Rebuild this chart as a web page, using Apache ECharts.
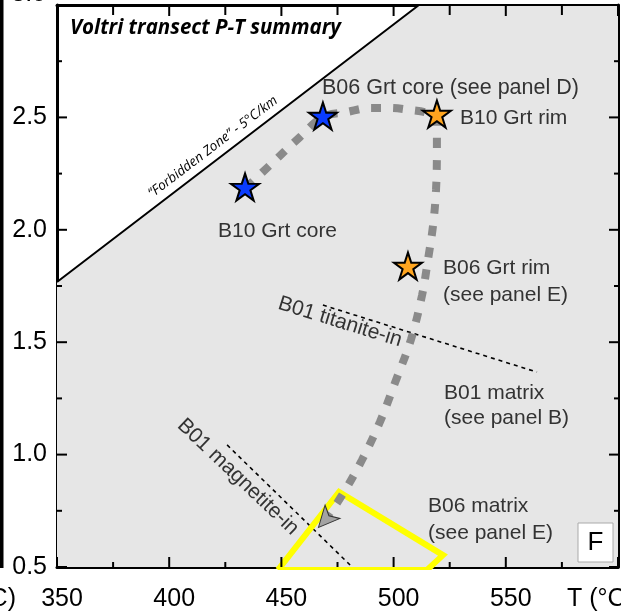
<!DOCTYPE html>
<html><head><meta charset="utf-8">
<script src="https://cdn.jsdelivr.net/npm/echarts@6/dist/echarts.min.js"></script>
<style>html,body{margin:0;padding:0;background:#fff}#c{width:621px;height:614px}</style>
</head><body><div id="c"></div>
<script>
// ---- data ----
const xMajorTicks = [350, 400, 450, 500, 550, 600];
const xMinorTicks = [375, 425, 475, 525, 575];
const yMajorTicks = [0.5, 1.0, 1.5, 2.0, 2.5, 3.0];
const yMinorTicks = [0.75, 1.25, 1.75, 2.25, 2.75];
// P-T path (T in °C, P in GPa)
const pathT = [434.2, 444.0, 458.3, 468.5, 479.2, 489.5, 498.4, 507.3, 515.3, 519.3, 519.3, 518.9, 517.6, 515.3, 512.7, 507.8, 501.1, 493.9, 485.9, 477.4, 470.3, 466.5];
const pathP = [2.186, 2.279, 2.413, 2.502, 2.524, 2.542, 2.542, 2.533, 2.520, 2.497, 2.355, 2.177, 2.021, 1.866, 1.710, 1.514, 1.332, 1.145, 0.976, 0.825, 0.722, 0.676];
// garnet cores (blue stars) and rims (orange stars)
const coreNames = ['B10 Grt core', 'B06 Grt core'];
const coreT = [433.8, 468.5];
const coreP = [2.190, 2.506];
const rimNames = ['B10 Grt rim', 'B06 Grt rim'];
const rimT = [519.3, 506.4];
const rimP = [2.515, 1.839];
// "Forbidden zone" 5°C/km boundary
const forbT = [350, 511.3, 600];
const forbP = [1.768, 3.0, 3.0];
// reaction lines
const titaniteT = [468.5, 563.9];
const titaniteP = [1.665, 1.367];
const magnetiteT = [425.8, 480.6];
const magnetiteP = [1.043, 0.509];
// B06 matrix field (yellow polygon)
const matrixT = [448.5, 475.7, 522.0, 514.9, 448.5];
const matrixP = [0.487, 0.834, 0.553, 0.487, 0.487];

const zip = (a, b) => a.map((v, i) => [v, b[i]]);
const star = 'path://M50 0 L61.2 34.5 L97.6 34.5 L68.2 55.9 L79.4 90.5 L50 69.1 L20.6 90.5 L31.8 55.9 L2.4 34.5 L38.8 34.5 Z';
const LF = '"Liberation Sans", Arial, sans-serif';
const X0 = 350, X1 = 600, Y0 = 0.5, Y1 = 3.0;

const chart = echarts.init(document.getElementById('c'), null, {renderer: 'canvas'});
function ax(position, min, max, interval, label) {
  return {
    type: 'value', position: position, min: min, max: max, interval: interval,
    axisLine: {show: true, onZero: false, lineStyle: {color: '#000', width: 3}},
    axisTick: {show: false},
    splitLine: {show: false},
    axisLabel: label || {show: false}
  };
}
const xLabel = {show: true, margin: 20, fontSize: 25, fontFamily: LF, color: '#000', padding: [0, 0, 0, 10], showMaxLabel: false};
const yLabel = {show: true, margin: 10, fontSize: 25, fontFamily: LF, color: '#000', showMaxLabel: false,
  formatter: v => v.toFixed(1)};

const opt = {
  animation: false,
  backgroundColor: '#fff',
  grid: {left: 57, right: 3, top: 5, bottom: 47},
  xAxis: [ax('bottom', X0, X1, 50, xLabel), ax('top', X0, X1, 50)],
  yAxis: [ax('left', Y0, Y1, 0.5, yLabel), ax('right', Y0, Y1, 0.5)],
  series: [
    {type: 'line', z: 1, data: zip(forbT, forbP), symbol: 'none', silent: true,
      lineStyle: {color: '#000', width: 2}, areaStyle: {color: '#e6e6e6', opacity: 1, origin: 'start'}},
    {type: 'line', z: 2, data: zip(titaniteT, titaniteP), symbol: 'none',
      lineStyle: {color: '#000', width: 1.6, type: [4, 4]}},
    {type: 'line', z: 2, data: zip(magnetiteT, magnetiteP), symbol: 'none',
      lineStyle: {color: '#000', width: 1.6, type: [4, 4]}},
    {type: 'line', z: 3, data: zip(matrixT, matrixP), symbol: 'none',
      lineStyle: {color: '#ffff00', width: 6, join: 'miter'}},
    {type: 'line', z: 4, data: zip(pathT, pathP), symbol: 'none', smooth: 0.35,
      lineStyle: {color: '#8a8a8a', width: 8, type: [10, 12], cap: 'butt'}},
    {type: 'scatter', z: 5, data: [[pathT[pathT.length - 1], pathP[pathP.length - 1]]],
      symbol: 'arrow', symbolSize: [15, 21], symbolRotate: 138,
      itemStyle: {color: '#a3a3a3', borderColor: '#333', borderWidth: 1, opacity: 1}},
    {type: 'scatter', z: 6, name: 'cores', data: zip(coreT, coreP), symbol: star, symbolSize: [28, 27],
      itemStyle: {color: '#0a3cff', borderColor: '#000', borderWidth: 2, opacity: 1}},
    {type: 'scatter', z: 6, name: 'rims', data: zip(rimT, rimP), symbol: star, symbolSize: [28, 27],
      itemStyle: {color: '#ffa51f', borderColor: '#000', borderWidth: 2, opacity: 1}}
  ]
};

const txt = (s, x, y, extra) => Object.assign({type: 'text', x: x, y: y, z: 100,
  style: Object.assign({text: s, font: '21px ' + LF, fill: '#333', align: 'left', verticalAlign: 'middle'}, extra && extra.style || {})},
  extra && extra.el || {});

const graphics = [
  {type: 'rect', shape: {x: 0, y: 0, width: 3.5, height: 568}, style: {fill: '#000'}, z: 100},
  txt('°C)', 16, 599, {style: {font: '25px ' + LF, fill: '#000', align: 'right'}}),
  txt('3.0', 46, -6, {style: {font: '25px ' + LF, fill: '#000', align: 'right'}}),
  txt('T (°C)', 567, 599, {style: {font: '25px ' + LF, fill: '#000'}}),
  txt('Voltri transect P-T summary', 70, 28, {style: {font: 'italic bold 20.5px "Open Sans", sans-serif', fill: '#000'}}),
  txt('“Forbidden Zone” - 5°C/km', 213, 147, {style: {font: 'italic 13.5px "Open Sans", sans-serif', fill: '#000', align: 'center'}, el: {rotation: 0.651}}),
  txt('B06 Grt core (see panel D)', 322, 88, {style: {font: '21.5px ' + LF}}),
  txt('B10 Grt rim', 460, 118),
  txt('B10 Grt core', 218, 231),
  txt('B06 Grt rim', 443, 268),
  txt('(see panel E)', 443, 295),
  txt('B01 matrix', 444, 393),
  txt('(see panel B)', 444, 418),
  txt('B06 matrix', 428, 506),
  txt('(see panel E)', 428, 533),
  txt('B01 titanite-in', 340, 322, {style: {align: 'center'}, el: {rotation: -0.30}}),
  txt('B01 magnetite-in', 238, 477, {style: {align: 'center'}, el: {rotation: -0.76}}),
  {type: 'rect', shape: {x: 578, y: 523, width: 35, height: 39}, style: {fill: '#fff', stroke: '#aaa', lineWidth: 1}, z: 100},
  txt('F', 595.5, 543, {style: {font: '26px ' + LF, fill: '#000', align: 'center'}})
];
opt.graphic = graphics;
chart.setOption(opt);

// tick marks: positions taken from the axis scales of the grid
const finder = {xAxisIndex: 0, yAxisIndex: 0};
const px = (t, p) => chart.convertToPixel(finder, [t, p]);
const yb = px(X0, Y0)[1], yt = px(X0, Y1)[1], xl = px(X0, Y0)[0], xr = px(X1, Y0)[0];
const tick = (x, y, w, h) => ({type: 'rect', z: 90, shape: {x: x, y: y, width: w, height: h}, style: {fill: '#000'}});
const ticks = [];
xMajorTicks.forEach(t => { const x = px(t, Y0)[0]; ticks.push(tick(x - 1, yb - 10, 2, 10), tick(x - 1, yt, 2, 11)); });
xMinorTicks.forEach(t => { const x = px(t, Y0)[0]; ticks.push(tick(x - 1, yb - 5, 2, 5), tick(x - 1, yt, 2, 10)); });
yMajorTicks.forEach(p => { const y = px(X0, p)[1]; ticks.push(tick(xl, y - 1, 10, 2), tick(xr - 9, y - 1, 9, 2)); });
yMinorTicks.forEach(p => { const y = px(X0, p)[1]; ticks.push(tick(xl, y - 1, 5, 2), tick(xr - 4, y - 1, 4, 2)); });
chart.setOption({graphic: graphics.concat(ticks)});
</script></body></html>
